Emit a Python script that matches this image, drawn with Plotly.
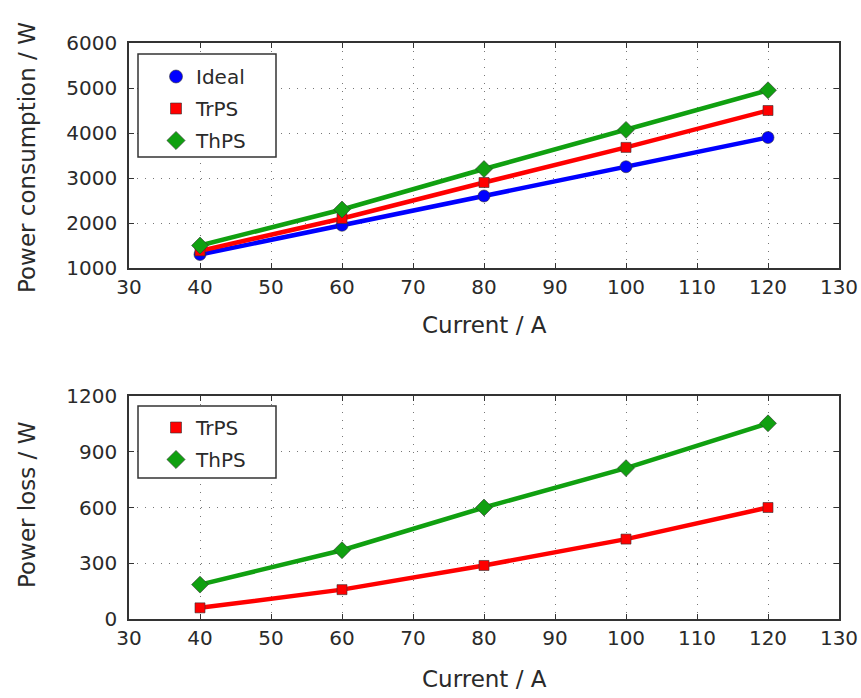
import plotly.graph_objects as go

current = [40, 60, 80, 100, 120]
ideal = [1300, 1950, 2600, 3250, 3900]
trps_cons = [1380, 2100, 2900, 3680, 4500]
thps_cons = [1500, 2300, 3200, 4070, 4950]
trps_loss = [60, 158, 288, 430, 600]
thps_loss = [185, 370, 600, 812, 1053]

x_ticks = [30, 40, 50, 60, 70, 80, 90, 100, 110, 120, 130]
y1_ticks = [1000, 2000, 3000, 4000, 5000, 6000]
y2_ticks = [0, 300, 600, 900, 1200]

BLUE = "#0000ff"
RED = "#ff0000"
GREEN = "#10a010"
FONT = "DejaVu Sans"
TXT = "#2a2a2a"
W, H = 861, 698

fig = go.Figure()

def add_series(x, y, name, color, symbol, size, xa, ya, legend):
    fig.add_trace(go.Scatter(x=x, y=y, mode="lines+markers", name=name,
                             line=dict(color=color, width=4.5),
                             marker=dict(symbol=symbol, size=size, color=color,
                                         line=dict(color="#333333", width=0.6)),
                             xaxis=xa, yaxis=ya, showlegend=False))
    fig.add_trace(go.Scatter(x=[None], y=[None], mode="markers", name=name,
                             legendgroup=name + legend,
                             marker=dict(symbol=symbol, size=size + 1, color=color,
                                         line=dict(color="#333333", width=0.6)),
                             xaxis=xa, yaxis=ya, legend=legend, showlegend=True))

add_series(current, ideal, "Ideal", BLUE, "circle", 12, "x", "y", "legend")
add_series(current, trps_cons, "TrPS", RED, "square", 10, "x", "y", "legend")
add_series(current, thps_cons, "ThPS", GREEN, "diamond", 13, "x", "y", "legend")
add_series(current, trps_loss, "TrPS", RED, "square", 10, "x2", "y2", "legend2")
add_series(current, thps_loss, "ThPS", GREEN, "diamond", 13, "x2", "y2", "legend2")

axis_common = dict(showline=True, linecolor="#333333", linewidth=1.5, mirror="ticks",
                   ticks="inside", ticklen=5, tickcolor="#333333", automargin=False,
                   showgrid=True, gridcolor="#777777", griddash="1px,7px", gridwidth=1,
                   zeroline=False, tickfont=dict(family=FONT, size=20, color=TXT))

xdom = [129 / W, 839 / W]
top_dom = [1 - 268 / H, 1 - 43 / H]
bot_dom = [1 - 619 / H, 1 - 396 / H]

fig.update_layout(
    width=W, height=H,
    margin=dict(l=0, r=0, t=0, b=0),
    paper_bgcolor="white", plot_bgcolor="white",
    xaxis=dict(domain=xdom, anchor="y", range=[30, 130], tickvals=x_ticks, **axis_common),
    yaxis=dict(domain=top_dom, anchor="x", range=[1000, 6000], tickvals=y1_ticks,
               ticklabelstandoff=6, **axis_common),
    xaxis2=dict(domain=xdom, anchor="y2", range=[30, 130], tickvals=x_ticks, **axis_common),
    yaxis2=dict(domain=bot_dom, anchor="x2", range=[0, 1200], tickvals=y2_ticks,
                ticklabelstandoff=6, **axis_common),
    legend=dict(x=156 / W, y=1 - 57 / H, xanchor="left", yanchor="top",
                borderwidth=0, bgcolor="rgba(0,0,0,0)", traceorder="grouped", tracegroupgap=3,
                font=dict(family=FONT, size=20, color=TXT)),
    legend2=dict(x=156 / W, y=1 - 408 / H, xanchor="left", yanchor="top",
                 borderwidth=0, bgcolor="rgba(0,0,0,0)", traceorder="grouped", tracegroupgap=3,
                 font=dict(family=FONT, size=20, color=TXT)),
)

# legend frames
for (x0, y0, x1, y1) in [(138, 54, 276, 157), (138, 406, 276, 478)]:
    fig.add_shape(type="rect", xref="paper", yref="paper",
                  x0=x0 / W, x1=x1 / W, y0=1 - y1 / H, y1=1 - y0 / H,
                  line=dict(color="#333333", width=1.5), fillcolor="white", layer="above")

# axis titles
title_font = dict(family=FONT, size=23, color=TXT)
fig.add_annotation(text="Current / A", xref="paper", yref="paper", x=(129 + 839) / 2 / W, y=1 - 325 / H,
                   showarrow=False, font=title_font, xanchor="center", yanchor="middle")
fig.add_annotation(text="Current / A", xref="paper", yref="paper", x=(129 + 839) / 2 / W, y=1 - 679 / H,
                   showarrow=False, font=title_font, xanchor="center", yanchor="middle")
fig.add_annotation(text="Power consumption / W", xref="paper", yref="paper", x=27 / W, y=1 - 158 / H,
                   showarrow=False, font=dict(family=FONT, size=23, color=TXT), textangle=-90,
                   xanchor="center", yanchor="middle")
fig.add_annotation(text="Power loss / W", xref="paper", yref="paper", x=27 / W, y=1 - 505 / H,
                   showarrow=False, font=dict(family=FONT, size=23, color=TXT), textangle=-90,
                   xanchor="center", yanchor="middle")

fig.write_html("out.html", config={"displayModeBar": False},
               post_script="document.body.style.margin='0';document.body.style.overflow='hidden';")
